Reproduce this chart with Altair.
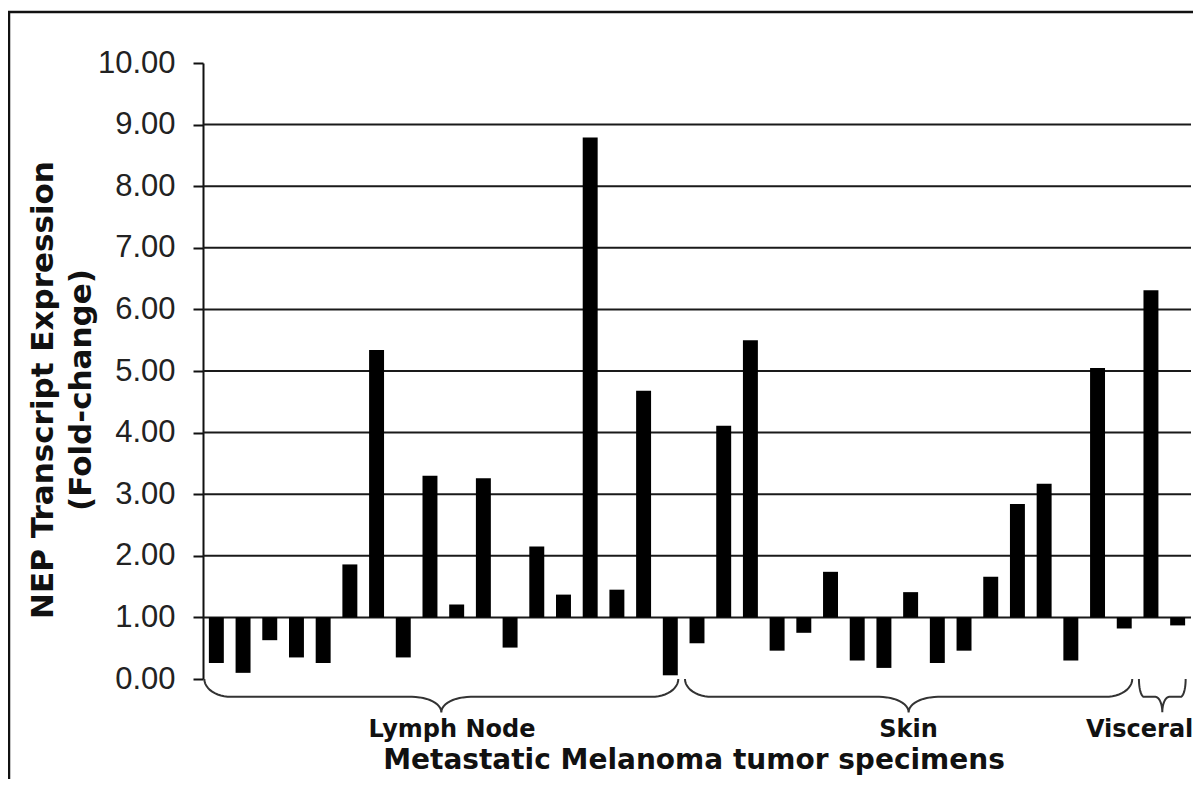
import math
import altair as alt
import pandas as pd

# ---------------- data ----------------
values = [
    # Lymph Node
    0.26, 0.10, 0.63, 0.35, 0.26, 1.86, 5.34, 0.35, 3.30, 1.21,
    3.26, 0.51, 2.15, 1.37, 8.79, 1.45, 4.68, 0.06,
    # Skin
    0.58, 4.11, 5.50, 0.46, 0.75, 1.74, 0.30, 0.18, 1.41, 0.26,
    0.46, 1.66, 2.84, 3.17, 0.30, 5.05, 0.82,
    # Visceral
    6.31, 0.87,
]
group_names = ["Lymph Node", "Skin", "Visceral"]
group_first = [0, 18, 35]
group_last = [17, 34, 36]
y_ticks = [0, 1, 2, 3, 4, 5, 6, 7, 8, 9, 10]
grid_levels = [1, 2, 3, 4, 5, 6, 7, 8, 9]
y_title_lines = ["NEP Transcript Expression", "(Fold-change)"]
x_title = "Metastatic Melanoma tumor specimens"
baseline_value = 1.0

# ---------------- style ----------------
W, H = 988, 616
HALF = 0.28
label_dx = [0.4, 0.0, -0.85]
BOLD = "DejaVu Sans"
REG = "Liberation Sans"

n = len(values)
bars = pd.DataFrame({"idx": list(range(n)), "value": values})
bars["x0"] = bars["idx"] - HALF
bars["x1"] = bars["idx"] + HALF
bars["base"] = baseline_value

xscale = alt.Scale(domain=[-0.5, n - 0.5], nice=False, zero=False)
yscale = alt.Scale(domain=[0, 10], nice=False, zero=False)

# brace geometry derived from group ranges
y_top, y_mid, y_tip = 0.0, -0.29, -0.54
rows = []
labels = []
for g, f, l, dx in zip(group_names, group_first, group_last, label_dx):
    xa, xb = f - 0.45, l + 0.3
    w = xb - xa
    xc = (xa + xb) / 2
    r = min(1.0, 0.11 * w)
    r2 = min(1.1, 0.15 * w)
    pts = []
    steps = 12
    for k in range(steps + 1):
        t = k / steps * math.pi / 2
        pts.append((xa + r * (1 - math.cos(t)), y_top + (y_mid - y_top) * math.sin(t)))
    for k in range(steps + 1):
        t = k / steps * math.pi / 2
        pts.append((xc - r2 + r2 * math.sin(t), y_mid + (y_tip - y_mid) * (1 - math.cos(t))))
    for k in range(steps + 1):
        t = k / steps * math.pi / 2
        pts.append((xc + r2 - r2 * math.cos(t), y_tip + (y_mid - y_tip) * math.sin(t)))
    for k in range(steps + 1):
        t = k / steps * math.pi / 2
        pts.append((xb - r + r * math.sin(t), y_mid + (y_top - y_mid) * (1 - math.cos(t))))
    for i, (px, py) in enumerate(pts):
        rows.append({"group": g, "o": i, "bx": px, "by": py})
    labels.append({"group": g, "lx": xc + dx, "ly": -0.94})
braces = pd.DataFrame(rows)
labels_df = pd.DataFrame(labels)

frame = alt.Chart(pd.DataFrame({"a": [0]})).mark_rect(
    fillOpacity=0, stroke="#111", strokeWidth=2.5
).encode(
    x=alt.value(-194), x2=alt.value(W + 60), y=alt.value(-51), y2=alt.value(H + 300)
)

grid = alt.Chart(pd.DataFrame({"g": grid_levels})).mark_rule(
    color="#1a1a1a", strokeWidth=2
).encode(
    y=alt.Y("g:Q", scale=yscale), x=alt.value(0), x2=alt.value(W)
)

bar_layer = alt.Chart(bars).mark_rect(color="black").encode(
    x=alt.X("x0:Q", scale=xscale, axis=None),
    x2="x1:Q",
    y=alt.Y(
        "base:Q",
        scale=yscale,
        axis=alt.Axis(
            values=y_ticks, format=".2f", grid=False, title=None,
            domainColor="#111", domainWidth=2, tickColor="#111", tickWidth=2,
            tickSize=10, labelFont=REG, labelFontSize=31, labelColor="#222",
            labelPadding=18,
        ),
    ),
    y2="value:Q",
)

brace_layer = alt.Chart(braces).mark_line(color="#333", strokeWidth=2).encode(
    x=alt.X("bx:Q", scale=xscale),
    y=alt.Y("by:Q", scale=yscale),
    detail="group:N",
    order="o:Q",
)

label_layer = alt.Chart(labels_df).mark_text(
    font=BOLD, fontWeight="bold", fontSize=24, color="#111",
    baseline="alphabetic", align="center",
).encode(
    x=alt.X("lx:Q", scale=xscale),
    y=alt.Y("ly:Q", scale=yscale),
    text="group:N",
)

xt = alt.Chart(pd.DataFrame({"t": [x_title]})).mark_text(
    font=BOLD, fontWeight="bold", fontSize=28, color="#111",
    baseline="alphabetic", align="center",
).encode(text="t:N", x=alt.value(491), y=alt.value(706))

yt1 = alt.Chart(pd.DataFrame({"t": [y_title_lines[0]]})).mark_text(
    font=BOLD, fontWeight="bold", fontSize=31, color="#111", angle=270,
    baseline="alphabetic", align="center",
).encode(text="t:N", x=alt.value(-150), y=alt.value(327))

yt2 = alt.Chart(pd.DataFrame({"t": [y_title_lines[1]]})).mark_text(
    font=BOLD, fontWeight="bold", fontSize=31, color="#111", angle=270,
    baseline="alphabetic", align="center",
).encode(text="t:N", x=alt.value(-112), y=alt.value(327))

chart = alt.layer(frame, grid, bar_layer, brace_layer, label_layer, xt, yt1, yt2).properties(
    width=W, height=H,
    autosize=alt.AutoSizeParams(type="none"),
    padding={"left": 195, "top": 55, "right": 2, "bottom": 100},
    background="white",
).configure_view(stroke=None)

chart.save("out.html", embed_options={"renderer": "svg", "actions": False})
